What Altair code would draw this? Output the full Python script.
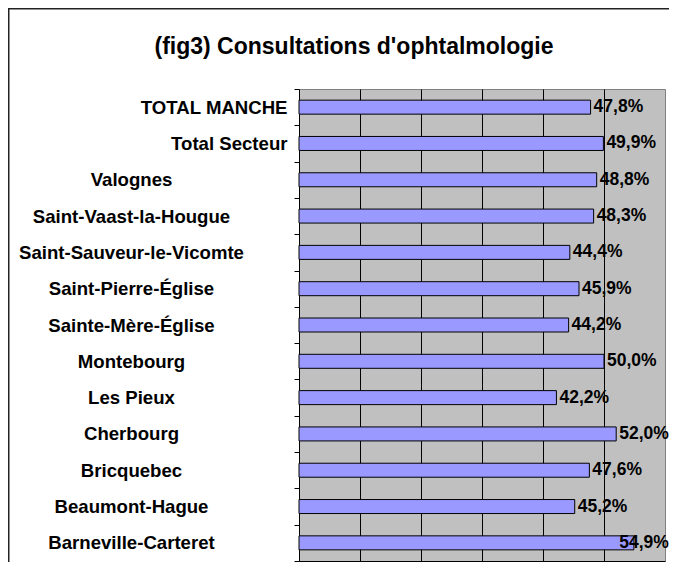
import altair as alt
import pandas as pd

categories = [
    "TOTAL MANCHE", "Total Secteur", "Valognes", "Saint-Vaast-la-Hougue",
    "Saint-Sauveur-le-Vicomte", "Saint-Pierre-Église", "Sainte-Mère-Église",
    "Montebourg", "Les Pieux", "Cherbourg", "Bricquebec", "Beaumont-Hague",
    "Barneville-Carteret",
]
values = [47.8, 49.9, 48.8, 48.3, 44.4, 45.9, 44.2, 50.0, 42.2, 52.0, 47.6, 45.2, 54.9]
grid_values = [10, 20, 30, 40, 50]
title_text = "(fig3) Consultations d'ophtalmologie"

df = pd.DataFrame({"cat": categories, "value": values})

FONT = "Liberation Sans"
W, H = 366, 472
PAD_L, PAD_T = 291, 81

right_test = "datum.value == 'TOTAL MANCHE' || datum.value == 'Total Secteur'"

y_enc = alt.Y(
    "cat:N",
    sort=categories,
    title=None,
    scale=alt.Scale(paddingInner=0, paddingOuter=0),
    axis=alt.Axis(
        domainColor="black",
        domainWidth=1,
        tickColor="black",
        tickSize=5,
        tickBand="extent",
        labelFont=FONT,
        labelFontSize=18.6,
        labelFontWeight="bold",
        labelColor="black",
        labelAlign={"condition": {"test": right_test, "value": "right"}, "value": "center"},
        labelPadding={"condition": {"test": right_test, "value": 7}, "value": 163},
        labelBaseline="middle",
        labelLimit=400,
    ),
)

x_enc = alt.X(
    "value:Q",
    title=None,
    scale=alt.Scale(domain=[0, 60], nice=False, zero=True),
    axis=alt.Axis(
        labels=False,
        ticks=False,
        domainColor="black",
        domainWidth=1,
        grid=True,
        gridColor="black",
        gridWidth=1,
        values=grid_values,
    ),
)

base = alt.Chart(df)

bars = base.mark_bar(size=14, fill="#9999FF", stroke="black", strokeWidth=1).encode(
    x=x_enc, y=y_enc
)

# labels are kept inside the chart frame, as the original software does
labels = base.transform_calculate(
    label="replace(format(datum.value, '.1f'), '.', ',') + '%'",
    labelx="min(datum.value, 52.0)",
).mark_text(
    align="left", baseline="middle", dx=3, font=FONT, fontSize=17.5,
    fontWeight="bold", color="black"
).encode(
    x=alt.X("labelx:Q"), y=alt.Y("cat:N", sort=categories), text="label:N"
)

frame = alt.Chart(pd.DataFrame({"d": [0]})).mark_rect(
    fillOpacity=0, stroke="#222222", strokeWidth=1.5
).encode(
    x=alt.value(-PAD_L + 0.75), x2=alt.value(W + 2000),
    y=alt.value(-PAD_T + 0.75), y2=alt.value(H + 2000),
)

chart = alt.layer(bars, labels, frame).properties(
    width=W,
    height=H,
    title=alt.TitleParams(
        text=title_text,
        font=FONT,
        fontSize=23,
        fontWeight="bold",
        color="black",
        anchor="middle",
        frame="group",
        dx=-128,
        offset=-69,
        baseline="alphabetic",
    ),
    autosize=alt.AutoSizeParams(type="none"),
    padding={"left": PAD_L, "top": PAD_T, "right": 4, "bottom": 1},
    background="white",
).configure_view(
    fill="#C0C0C0", stroke="#808080", strokeWidth=1
)

chart.save("out.html", embed_options={"renderer": "svg", "actions": False})
